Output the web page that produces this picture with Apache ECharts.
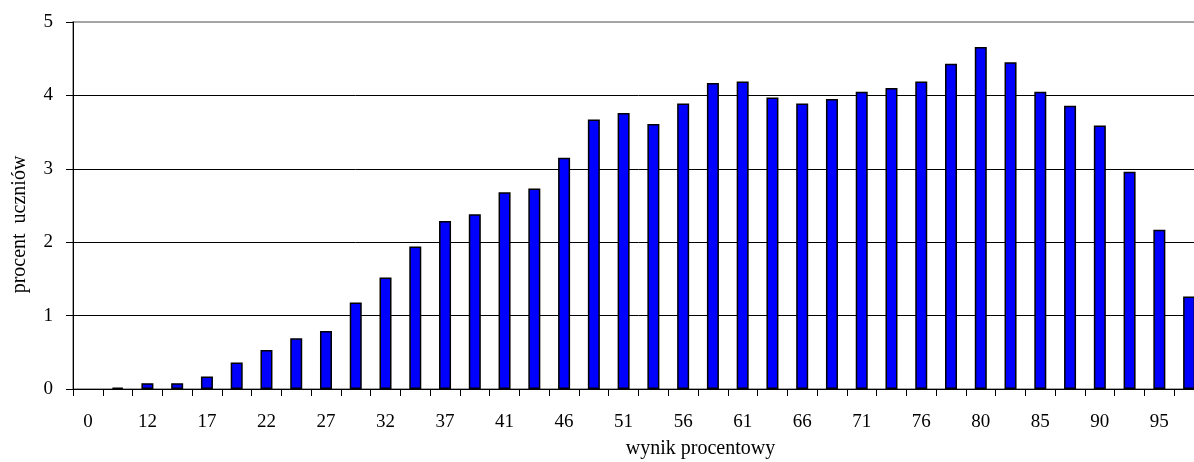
<!DOCTYPE html>
<html>
<head>
<meta charset="utf-8">
<script src="https://cdn.jsdelivr.net/npm/echarts@6/dist/echarts.min.js"></script>
<style>
html,body{margin:0;padding:0;background:#fff;overflow:hidden;width:1194px;height:462px;}
#c{width:1210px;height:462px;}
</style>
</head>
<body>
<div id="c"></div>
<script>
const categories = ['0','10','12','15','17','20','22','24','27','29','32','34','37','39','41','44','46','49','51','54','56','59','61','63','66','68','71','73','76','78','80','83','85','88','90','93','95','98'];
const values = [null,0.02,0.08,0.08,0.17,0.36,0.53,0.69,0.79,1.18,1.52,1.94,2.29,2.38,2.68,2.73,3.15,3.67,3.76,3.61,3.89,4.17,4.19,3.97,3.89,3.95,4.05,4.10,4.19,4.43,4.66,4.45,4.05,3.86,3.59,2.96,2.17,1.26];
const yTicks = [0,1,2,3,4,5];

const font = 'Liberation Serif';
const chart = echarts.init(document.getElementById('c'), null, {renderer:'canvas'});
chart.setOption({
  animation:false,
  grid:{left:73,right:6,top:22,bottom:73,show:true,borderColor:'#888',borderWidth:1.5,backgroundColor:'transparent',containLabel:false,outerBoundsMode:'none'},
  xAxis:{
    type:'category',
    data:categories,
    boundaryGap:true,
    name:'wynik procentowy',
    nameLocation:'middle',
    nameGap:50,
    nameTextStyle:{fontFamily:font,fontSize:20,color:'#000',padding:[0,0,0,124]},
    axisLine:{lineStyle:{color:'#000',width:1}},
    axisTick:{show:true,interval:0,length:7,lineStyle:{color:'#000'}},
    axisLabel:{interval:1,fontFamily:font,fontSize:19,color:'#000',margin:24},
    splitLine:{show:false}
  },
  yAxis:{
    type:'value',
    min:yTicks[0],
    max:yTicks[yTicks.length-1],
    interval:1,
    name:'procent  uczniów',
    nameLocation:'middle',
    nameGap:43,
    nameRotate:90,
    nameTextStyle:{fontFamily:font,fontSize:20,color:'#000',padding:[0,38,0,0]},
    axisLine:{show:true,lineStyle:{color:'#000',width:1}},
    axisTick:{show:true,length:7,lineStyle:{color:'#000'}},
    axisLabel:{fontFamily:font,fontSize:19,color:'#000',margin:20},
    splitLine:{show:true,showMaxLine:false,lineStyle:{color:'#000',width:1}}
  },
  series:[{
    type:'bar',
    data:values,
    barWidth:12,
    itemStyle:{color:'#0000ff',borderColor:'#000',borderWidth:1.5}
  }]
});
</script>
</body>
</html>
